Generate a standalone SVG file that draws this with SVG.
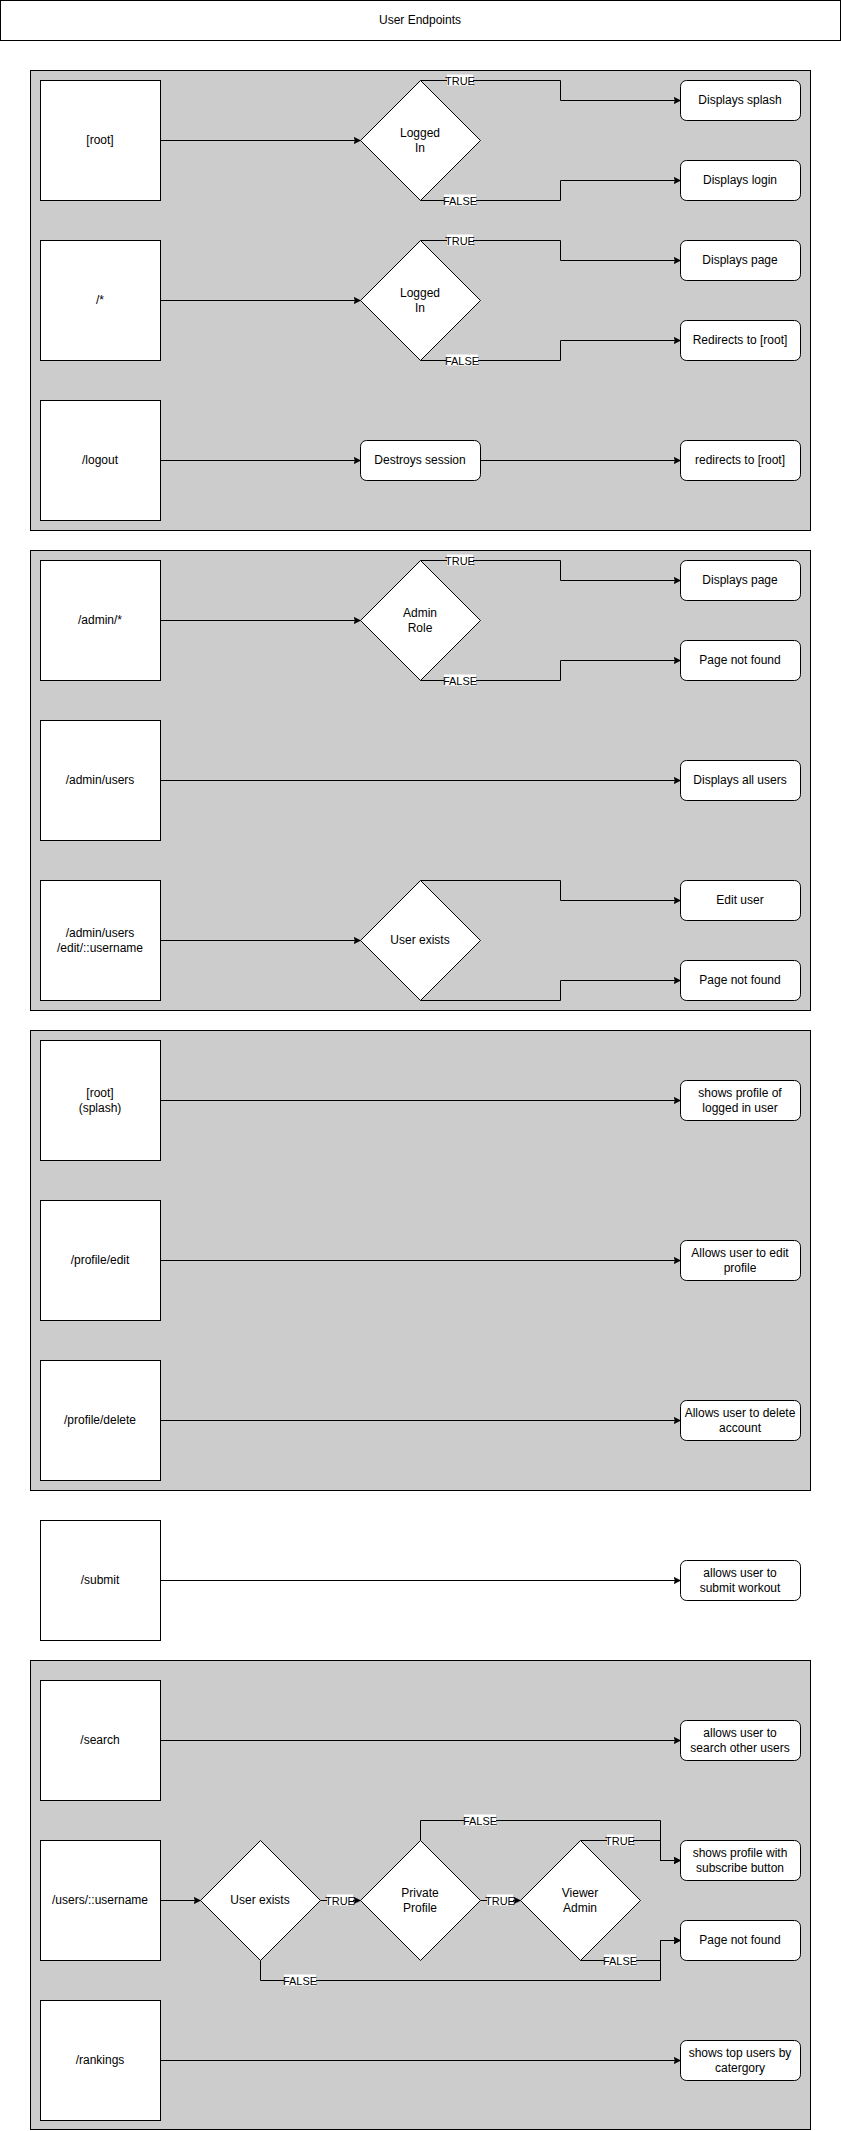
<svg xmlns="http://www.w3.org/2000/svg" width="841" height="2131" viewBox="0 0 841 2131">
  <style>
    .panel { fill: #cccccc; stroke: #000; stroke-width: 1; }
    .route { fill: #fff; stroke: #000; stroke-width: 1; }
    .result { fill: #fff; stroke: #000; stroke-width: 1; }
    .decision { fill: #fff; stroke: #000; stroke-width: 1; }
    .t { font-family: "Liberation Sans", Arial, sans-serif; font-size: 12px; fill: #000; text-anchor: middle; }
    .edge { fill: none; stroke: #000; stroke-width: 1; marker-end: url(#arrow); }
    .lbl-bg { fill: #fff; }
    .lbl { font-family: "Liberation Sans", Arial, sans-serif; font-size: 11px; fill: #000; text-anchor: middle; }
  </style>
  <defs>
    <marker id="arrow" markerWidth="10" markerHeight="10" refX="7" refY="4" orient="auto" markerUnits="userSpaceOnUse">
      <path d="M0,0.5 L7,4 L0,7.5 L1.8,4 Z" fill="#000" stroke="#000" stroke-width="0.5"/>
    </marker>
  </defs>
  <rect width="841" height="2131" fill="#fff"/>

  <!-- header -->
  <g id="title">
    <rect x="0.5" y="0.5" width="840" height="40" fill="#fff" stroke="#000"/>
    <text class="t" x="420" y="24">User Endpoints</text>
  </g>

  <!-- grouping panels -->
  <g id="panels">
    <rect class="panel" x="30.5" y="70.5" width="780" height="460"/>
    <rect class="panel" x="30.5" y="550.5" width="780" height="460"/>
    <rect class="panel" x="30.5" y="1030.5" width="780" height="460"/>
    <rect class="panel" x="30.5" y="1660.5" width="780" height="469"/>
  </g>

  <!-- connectors -->
  <g id="connectors">
    <!-- [root] -->
    <path class="edge" d="M160.5,140.5 H360.5"/>
    <path class="edge" d="M420.5,80.5 H560.5 V100.5 H680.5"/>
    <path class="edge" d="M420.5,200.5 H560.5 V180.5 H680.5"/>
    <!-- /* -->
    <path class="edge" d="M160.5,300.5 H360.5"/>
    <path class="edge" d="M420.5,240.5 H560.5 V260.5 H680.5"/>
    <path class="edge" d="M420.5,360.5 H560.5 V340.5 H680.5"/>
    <!-- /logout -->
    <path class="edge" d="M160.5,460.5 H360.5"/>
    <path class="edge" d="M480.5,460.5 H680.5"/>
    <!-- /admin/* -->
    <path class="edge" d="M160.5,620.5 H360.5"/>
    <path class="edge" d="M420.5,560.5 H560.5 V580.5 H680.5"/>
    <path class="edge" d="M420.5,680.5 H560.5 V660.5 H680.5"/>
    <!-- /admin/users -->
    <path class="edge" d="M160.5,780.5 H680.5"/>
    <!-- /admin/users/edit -->
    <path class="edge" d="M160.5,940.5 H360.5"/>
    <path class="edge" d="M420.5,880.5 H560.5 V900.5 H680.5"/>
    <path class="edge" d="M420.5,1000.5 H560.5 V980.5 H680.5"/>
    <!-- profile section -->
    <path class="edge" d="M160.5,1100.5 H680.5"/>
    <path class="edge" d="M160.5,1260.5 H680.5"/>
    <path class="edge" d="M160.5,1420.5 H680.5"/>
    <!-- /submit -->
    <path class="edge" d="M160.5,1580.5 H680.5"/>
    <!-- /search -->
    <path class="edge" d="M160.5,1740.5 H680.5"/>
    <!-- /users/::username -->
    <path class="edge" d="M160.5,1900.5 H200.5"/>
    <path class="edge" d="M320.5,1900.5 H360.5"/>
    <path class="edge" d="M480.5,1900.5 H520.5"/>
    <path class="edge" d="M420.5,1840.5 V1820.5 H660.5 V1860.5 H680.5"/>
    <path class="edge" d="M580.5,1840.5 H660.5 V1860.5 H680.5"/>
    <path class="edge" d="M580.5,1960.5 H660.5 V1940.5 H680.5"/>
    <path class="edge" d="M260.5,1960.5 V1980.5 H660.5 V1940.5 H680.5"/>
    <!-- /rankings -->
    <path class="edge" d="M160.5,2060.5 H680.5"/>

    <!-- edge labels -->
    <g id="edge-labels">
      <rect class="lbl-bg" x="447" y="74.5" width="26" height="11"/><text class="lbl" x="460" y="84.5">TRUE</text>
      <rect class="lbl-bg" x="444" y="194.5" width="32" height="11"/><text class="lbl" x="460" y="204.5">FALSE</text>
      <rect class="lbl-bg" x="447" y="234.5" width="26" height="11"/><text class="lbl" x="460" y="244.5">TRUE</text>
      <rect class="lbl-bg" x="446" y="354.5" width="32" height="11"/><text class="lbl" x="462" y="364.5">FALSE</text>
      <rect class="lbl-bg" x="447" y="554.5" width="26" height="11"/><text class="lbl" x="460" y="564.5">TRUE</text>
      <rect class="lbl-bg" x="444" y="674.5" width="32" height="11"/><text class="lbl" x="460" y="684.5">FALSE</text>
      <rect class="lbl-bg" x="327" y="1894.5" width="26" height="11"/><text class="lbl" x="340" y="1904.5">TRUE</text>
      <rect class="lbl-bg" x="487" y="1894.5" width="26" height="11"/><text class="lbl" x="500" y="1904.5">TRUE</text>
      <rect class="lbl-bg" x="464" y="1814.5" width="32" height="11"/><text class="lbl" x="480" y="1824.5">FALSE</text>
      <rect class="lbl-bg" x="607" y="1834.5" width="26" height="11"/><text class="lbl" x="620" y="1844.5">TRUE</text>
      <rect class="lbl-bg" x="604" y="1954.5" width="32" height="11"/><text class="lbl" x="620" y="1964.5">FALSE</text>
      <rect class="lbl-bg" x="284" y="1974.5" width="32" height="11"/><text class="lbl" x="300" y="1984.5">FALSE</text>
    </g>
  </g>

  <!-- route nodes -->
  <g id="route-root"><rect class="route" x="40.5" y="80.5" width="120" height="120"/><text class="t" x="100" y="144">[root]</text></g>
  <g id="route-any"><rect class="route" x="40.5" y="240.5" width="120" height="120"/><text class="t" x="100" y="304">/*</text></g>
  <g id="route-logout"><rect class="route" x="40.5" y="400.5" width="120" height="120"/><text class="t" x="100" y="464">/logout</text></g>
  <g id="route-admin"><rect class="route" x="40.5" y="560.5" width="120" height="120"/><text class="t" x="100" y="624">/admin/*</text></g>
  <g id="route-admin-users"><rect class="route" x="40.5" y="720.5" width="120" height="120"/><text class="t" x="100" y="784">/admin/users</text></g>
  <g id="route-admin-edit"><rect class="route" x="40.5" y="880.5" width="120" height="120"/><text class="t" x="100" y="936.5">/admin/users</text><text class="t" x="100" y="951.5">/edit/::username</text></g>
  <g id="route-splash"><rect class="route" x="40.5" y="1040.5" width="120" height="120"/><text class="t" x="100" y="1096.5">[root]</text><text class="t" x="100" y="1111.5">(splash)</text></g>
  <g id="route-profile-edit"><rect class="route" x="40.5" y="1200.5" width="120" height="120"/><text class="t" x="100" y="1264">/profile/edit</text></g>
  <g id="route-profile-delete"><rect class="route" x="40.5" y="1360.5" width="120" height="120"/><text class="t" x="100" y="1424">/profile/delete</text></g>
  <g id="route-submit"><rect class="route" x="40.5" y="1520.5" width="120" height="120"/><text class="t" x="100" y="1584">/submit</text></g>
  <g id="route-search"><rect class="route" x="40.5" y="1680.5" width="120" height="120"/><text class="t" x="100" y="1744">/search</text></g>
  <g id="route-users"><rect class="route" x="40.5" y="1840.5" width="120" height="120"/><text class="t" x="100" y="1904">/users/::username</text></g>
  <g id="route-rankings"><rect class="route" x="40.5" y="2000.5" width="120" height="120"/><text class="t" x="100" y="2064">/rankings</text></g>

  <!-- decision nodes -->
  <g id="dec-logged-1"><path class="decision" d="M420.5,80.5 L480.5,140.5 L420.5,200.5 L360.5,140.5 Z"/><text class="t" x="420" y="136.5">Logged</text><text class="t" x="420" y="151.5">In</text></g>
  <g id="dec-logged-2"><path class="decision" d="M420.5,240.5 L480.5,300.5 L420.5,360.5 L360.5,300.5 Z"/><text class="t" x="420" y="296.5">Logged</text><text class="t" x="420" y="311.5">In</text></g>
  <g id="dec-admin"><path class="decision" d="M420.5,560.5 L480.5,620.5 L420.5,680.5 L360.5,620.5 Z"/><text class="t" x="420" y="616.5">Admin</text><text class="t" x="420" y="631.5">Role</text></g>
  <g id="dec-edit-exists"><path class="decision" d="M420.5,880.5 L480.5,940.5 L420.5,1000.5 L360.5,940.5 Z"/><text class="t" x="420" y="944">User exists</text></g>
  <g id="dec-user-exists"><path class="decision" d="M260.5,1840.5 L320.5,1900.5 L260.5,1960.5 L200.5,1900.5 Z"/><text class="t" x="260" y="1904">User exists</text></g>
  <g id="dec-private"><path class="decision" d="M420.5,1840.5 L480.5,1900.5 L420.5,1960.5 L360.5,1900.5 Z"/><text class="t" x="420" y="1896.5">Private</text><text class="t" x="420" y="1911.5">Profile</text></g>
  <g id="dec-viewer-admin"><path class="decision" d="M580.5,1840.5 L640.5,1900.5 L580.5,1960.5 L520.5,1900.5 Z"/><text class="t" x="580" y="1896.5">Viewer</text><text class="t" x="580" y="1911.5">Admin</text></g>

  <!-- action nodes -->
  <g id="act-destroy"><rect class="result" x="360.5" y="440.5" width="120" height="40" rx="6"/><text class="t" x="420" y="464">Destroys session</text></g>

  <!-- result nodes -->
  <g id="res-splash"><rect class="result" x="680.5" y="80.5" width="120" height="40" rx="6"/><text class="t" x="740" y="104">Displays splash</text></g>
  <g id="res-login"><rect class="result" x="680.5" y="160.5" width="120" height="40" rx="6"/><text class="t" x="740" y="184">Displays login</text></g>
  <g id="res-page-1"><rect class="result" x="680.5" y="240.5" width="120" height="40" rx="6"/><text class="t" x="740" y="264">Displays page</text></g>
  <g id="res-redirect-1"><rect class="result" x="680.5" y="320.5" width="120" height="40" rx="6"/><text class="t" x="740" y="344">Redirects to [root]</text></g>
  <g id="res-redirect-2"><rect class="result" x="680.5" y="440.5" width="120" height="40" rx="6"/><text class="t" x="740" y="464">redirects to [root]</text></g>
  <g id="res-page-2"><rect class="result" x="680.5" y="560.5" width="120" height="40" rx="6"/><text class="t" x="740" y="584">Displays page</text></g>
  <g id="res-notfound-1"><rect class="result" x="680.5" y="640.5" width="120" height="40" rx="6"/><text class="t" x="740" y="664">Page not found</text></g>
  <g id="res-all-users"><rect class="result" x="680.5" y="760.5" width="120" height="40" rx="6"/><text class="t" x="740" y="784">Displays all users</text></g>
  <g id="res-edit-user"><rect class="result" x="680.5" y="880.5" width="120" height="40" rx="6"/><text class="t" x="740" y="904">Edit user</text></g>
  <g id="res-notfound-2"><rect class="result" x="680.5" y="960.5" width="120" height="40" rx="6"/><text class="t" x="740" y="984">Page not found</text></g>
  <g id="res-own-profile"><rect class="result" x="680.5" y="1080.5" width="120" height="40" rx="6"/><text class="t" x="740" y="1096.5">shows profile of</text><text class="t" x="740" y="1111.5">logged in user</text></g>
  <g id="res-edit-profile"><rect class="result" x="680.5" y="1240.5" width="120" height="40" rx="6"/><text class="t" x="740" y="1256.5">Allows user to edit</text><text class="t" x="740" y="1271.5">profile</text></g>
  <g id="res-delete-account"><rect class="result" x="680.5" y="1400.5" width="120" height="40" rx="6"/><text class="t" x="740" y="1416.5">Allows user to delete</text><text class="t" x="740" y="1431.5">account</text></g>
  <g id="res-submit"><rect class="result" x="680.5" y="1560.5" width="120" height="40" rx="6"/><text class="t" x="740" y="1576.5">allows user to</text><text class="t" x="740" y="1591.5">submit workout</text></g>
  <g id="res-search"><rect class="result" x="680.5" y="1720.5" width="120" height="40" rx="6"/><text class="t" x="740" y="1736.5">allows user to</text><text class="t" x="740" y="1751.5">search other users</text></g>
  <g id="res-subscribe"><rect class="result" x="680.5" y="1840.5" width="120" height="40" rx="6"/><text class="t" x="740" y="1856.5">shows profile with</text><text class="t" x="740" y="1871.5">subscribe button</text></g>
  <g id="res-notfound-3"><rect class="result" x="680.5" y="1920.5" width="120" height="40" rx="6"/><text class="t" x="740" y="1944">Page not found</text></g>
  <g id="res-rankings"><rect class="result" x="680.5" y="2040.5" width="120" height="40" rx="6"/><text class="t" x="740" y="2056.5">shows top users by</text><text class="t" x="740" y="2071.5">catergory</text></g>
</svg>
